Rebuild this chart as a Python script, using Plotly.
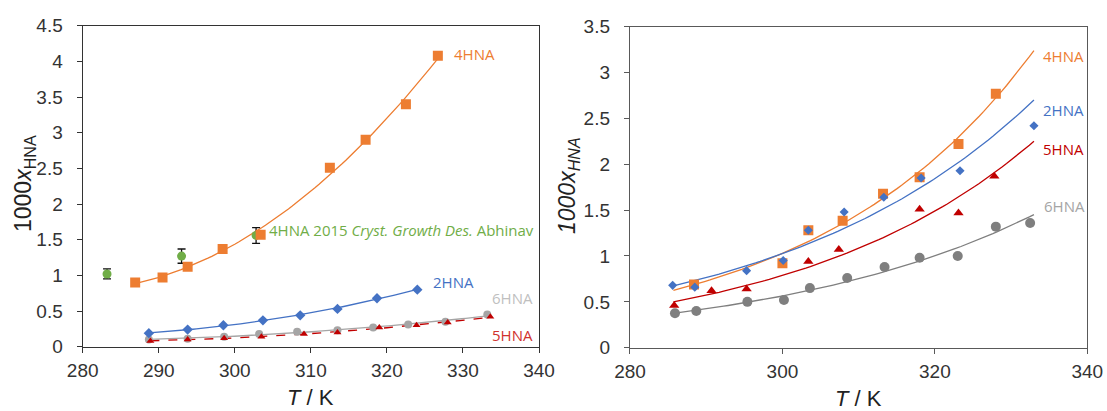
import numpy as np
import plotly.graph_objects as go

# ---------------- Left panel data ----------------
L_4HNA_T = [286.9, 290.5, 293.8, 298.4, 303.4, 312.5, 317.2, 322.5, 326.7]
L_4HNA_x = [0.90, 0.97, 1.12, 1.37, 1.57, 2.51, 2.90, 3.40, 4.08]

L_2HNA_T = [288.7, 293.8, 298.5, 303.7, 308.6, 313.5, 318.7, 324.0]
L_2HNA_x = [0.19, 0.24, 0.30, 0.37, 0.44, 0.53, 0.68, 0.80]

L_6HNA_T = [288.7, 293.8, 298.6, 303.2, 308.2, 313.5, 318.2, 322.8, 327.7, 333.2]
L_6HNA_x = [0.10, 0.11, 0.14, 0.18, 0.21, 0.23, 0.27, 0.31, 0.35, 0.45]

L_5HNA_T = [288.9, 293.8, 298.6, 303.5, 309.1, 313.5, 319.0, 323.9, 328.0, 333.6]
L_5HNA_x = [0.08, 0.10, 0.12, 0.14, 0.18, 0.20, 0.27, 0.30, 0.34, 0.42]

LIT_T = [283.2, 293.0, 302.8]
LIT_x = [1.02, 1.27, 1.56]
LIT_err = [0.07, 0.10, 0.11]

# ---------------- Right panel data ----------------
R_4HNA_T = [288.4, 300.0, 303.4, 307.9, 313.2, 318.0, 323.1, 328.0]
R_4HNA_x = [0.69, 0.92, 1.28, 1.385, 1.68, 1.86, 2.22, 2.77]

R_2HNA_T = [285.6, 288.5, 295.3, 300.1, 303.4, 308.1, 313.3, 318.2, 323.3, 333.0]
R_2HNA_x = [0.68, 0.66, 0.84, 0.95, 1.28, 1.48, 1.64, 1.85, 1.93, 2.42]

R_5HNA_T = [285.8, 290.7, 295.3, 303.4, 307.4, 318.0, 323.1, 327.8]
R_5HNA_x = [0.46, 0.62, 0.64, 0.94, 1.07, 1.51, 1.47, 1.87]

R_6HNA_T = [285.9, 288.7, 295.4, 300.2, 303.6, 308.5, 313.4, 318.0, 323.0, 328.0, 332.5]
R_6HNA_x = [0.375, 0.40, 0.50, 0.52, 0.65, 0.76, 0.88, 0.98, 1.00, 1.32, 1.36]

ORANGE = "#ED7D31"
BLUE = "#4472C4"
RED = "#C00000"
GREY_L = "#A5A5A5"
GREY_R = "#7F7F7F"
GREEN = "#70AD47"


def poly_trend(T, x, t0, t1, deg=2):
    """Polynomial least-squares trendline computed from the data."""
    c = np.polyfit(np.asarray(T), np.asarray(x), deg)
    tt = np.linspace(t0, t1, 80)
    return tt, np.polyval(c, tt)


def exp_trend(T, x, t0, t1):
    """Exponential least-squares trendline computed from the data."""
    b, a = np.polyfit(np.asarray(T), np.log(np.asarray(x)), 1)
    tt = np.linspace(t0, t1, 80)
    return tt, np.exp(a + b * tt)


fig = go.Figure()

# ---- left panel trendlines ----
for T, x, col, dash in [
    (L_4HNA_T, L_4HNA_x, ORANGE, "solid"),
    (L_2HNA_T, L_2HNA_x, BLUE, "solid"),
    (L_6HNA_T, L_6HNA_x, GREY_L, "solid"),
    (L_5HNA_T, L_5HNA_x, RED, "dash"),
]:
    tt, yy = poly_trend(T, x, min(T), max(T))
    fig.add_trace(go.Scatter(x=tt, y=yy, mode="lines", xaxis="x", yaxis="y",
                             line=dict(color=col, width=1.3, dash=dash), showlegend=False,
                             hoverinfo="skip"))

# ---- left panel markers ----
fig.add_trace(go.Scatter(x=L_6HNA_T, y=L_6HNA_x, mode="markers", xaxis="x", yaxis="y",
                         marker=dict(symbol="circle", size=8, color=GREY_L), name="6HNA"))
fig.add_trace(go.Scatter(x=L_5HNA_T, y=L_5HNA_x, mode="markers", xaxis="x", yaxis="y",
                         marker=dict(symbol="triangle-up", size=7, color=RED), name="5HNA"))
fig.add_trace(go.Scatter(x=L_2HNA_T, y=L_2HNA_x, mode="markers", xaxis="x", yaxis="y",
                         marker=dict(symbol="diamond", size=8, color=BLUE), name="2HNA"))
fig.add_trace(go.Scatter(x=LIT_T, y=LIT_x, mode="markers", xaxis="x", yaxis="y",
                         marker=dict(symbol="circle", size=9, color=GREEN),
                         error_y=dict(type="data", array=LIT_err, color="#111111",
                                      thickness=1.3, width=4),
                         name="4HNA lit"))
fig.add_trace(go.Scatter(x=L_4HNA_T, y=L_4HNA_x, mode="markers", xaxis="x", yaxis="y",
                         marker=dict(symbol="square", size=10, color=ORANGE), name="4HNA"))

# ---- right panel trendlines ----
for T, x, col in [
    (R_4HNA_T, R_4HNA_x, ORANGE),
    (R_2HNA_T, R_2HNA_x, BLUE),
    (R_5HNA_T, R_5HNA_x, RED),
    (R_6HNA_T, R_6HNA_x, GREY_R),
]:
    tt, yy = exp_trend(T, x, 285.7, 333.0)
    fig.add_trace(go.Scatter(x=tt, y=yy, mode="lines", xaxis="x2", yaxis="y2",
                             line=dict(color=col, width=1.3), showlegend=False,
                             hoverinfo="skip"))

fig.add_trace(go.Scatter(x=R_6HNA_T, y=R_6HNA_x, mode="markers", xaxis="x2", yaxis="y2",
                         marker=dict(symbol="circle", size=10, color=GREY_R), name="6HNA"))
fig.add_trace(go.Scatter(x=R_5HNA_T, y=R_5HNA_x, mode="markers", xaxis="x2", yaxis="y2",
                         marker=dict(symbol="triangle-up", size=9, color=RED), name="5HNA"))
fig.add_trace(go.Scatter(x=R_4HNA_T, y=R_4HNA_x, mode="markers", xaxis="x2", yaxis="y2",
                         marker=dict(symbol="square", size=10, color=ORANGE), name="4HNA"))
fig.add_trace(go.Scatter(x=R_2HNA_T, y=R_2HNA_x, mode="markers", xaxis="x2", yaxis="y2",
                         marker=dict(symbol="diamond", size=7, color=BLUE), name="2HNA"))

tickfont = dict(family="Liberation Sans, Arial, sans-serif", size=19, color="#333333")
axis_common = dict(showgrid=False, zeroline=False, showline=True, mirror=True,
                   ticks="outside", ticklen=5, tickwidth=1.2, tickfont=tickfont,
                   fixedrange=True, automargin=False, linewidth=1.3)

fig.update_layout(
    template="none",
    width=1107, height=411,
    margin=dict(l=0, r=0, t=0, b=0, pad=0),
    paper_bgcolor="white", plot_bgcolor="white",
    showlegend=False,
    xaxis=dict(domain=[0.0747, 0.4869], range=[280, 340], dtick=10, anchor="y",
               linecolor="#333333", tickcolor="#333333", ticklabelstandoff=1, **axis_common),
    yaxis=dict(domain=[0.1564, 0.9375], range=[0, 4.5], dtick=0.5, anchor="x",
               linecolor="#333333", tickcolor="#333333", ticklabelstandoff=10, **axis_common),
    xaxis2=dict(domain=[0.5691, 0.9822], range=[280, 340], dtick=20, anchor="y2",
                linecolor="#595959", tickcolor="#595959", ticklabelstandoff=1, **axis_common),
    yaxis2=dict(domain=[0.154, 0.935], range=[0, 3.5], dtick=0.5, anchor="x2",
                linecolor="#595959", tickcolor="#595959", ticklabelstandoff=10, **axis_common),
)

lab_font = "Open Sans, Noto Sans, sans-serif"
ann = [
    # left panel series labels
    dict(x=328.7, y=4.10, xref="x", yref="y", text="4HNA", font=dict(color=ORANGE, size=15, family=lab_font)),
    dict(x=325.9, y=0.91, xref="x", yref="y", text="2HNA", font=dict(color=BLUE, size=15, family=lab_font)),
    dict(x=333.7, y=0.68, xref="x", yref="y", text="6HNA", font=dict(color="#BFBFBF", size=15, family=lab_font)),
    dict(x=333.7, y=0.16, xref="x", yref="y", text="5HNA", font=dict(color="#D0312D", size=15, family=lab_font)),
    dict(x=304.4, y=1.63, xref="x", yref="y",
         text="4HNA 2015 <i>Cryst. Growth Des.</i> Abhinav",
         font=dict(color=GREEN, size=15, family=lab_font)),
    # right panel series labels
    dict(x=334.1, y=3.18, xref="x2", yref="y2", text="4HNA", font=dict(color=ORANGE, size=15, family=lab_font)),
    dict(x=334.1, y=2.59, xref="x2", yref="y2", text="2HNA", font=dict(color=BLUE, size=15, family=lab_font)),
    dict(x=334.1, y=2.17, xref="x2", yref="y2", text="5HNA", font=dict(color=RED, size=15, family=lab_font)),
    dict(x=334.2, y=1.54, xref="x2", yref="y2", text="6HNA", font=dict(color="#A5A5A5", size=15, family=lab_font)),
]
for a in ann:
    a.update(showarrow=False, xanchor="left", yanchor="middle", borderpad=0)

title_font = dict(family="Liberation Sans, Arial, sans-serif", size=23, color="#222222")
xt_font = dict(family="Liberation Sans, Arial, sans-serif", size=22, color="#222222")
ann += [
    dict(x=24 / 1107, y=1 - 184 / 411, xref="paper", yref="paper", textangle=-90,
         text="1000<i>x</i><sub>HNA</sub>", font=title_font, showarrow=False,
         xanchor="center", yanchor="middle"),
    dict(x=568 / 1107, y=1 - 186 / 411, xref="paper", yref="paper", textangle=-90,
         text="<i>1000x<sub>HNA</sub></i>", font=title_font, showarrow=False,
         xanchor="center", yanchor="middle"),
    dict(x=310 / 1107, y=1 - 397 / 411, xref="paper", yref="paper",
         text="<i>T</i> / K", font=xt_font, showarrow=False,
         xanchor="center", yanchor="middle"),
    dict(x=858 / 1107, y=1 - 398 / 411, xref="paper", yref="paper",
         text="<i>T</i> / K", font=xt_font, showarrow=False,
         xanchor="center", yanchor="middle"),
]
fig.update_layout(annotations=ann)

fig.write_html("out.html")
